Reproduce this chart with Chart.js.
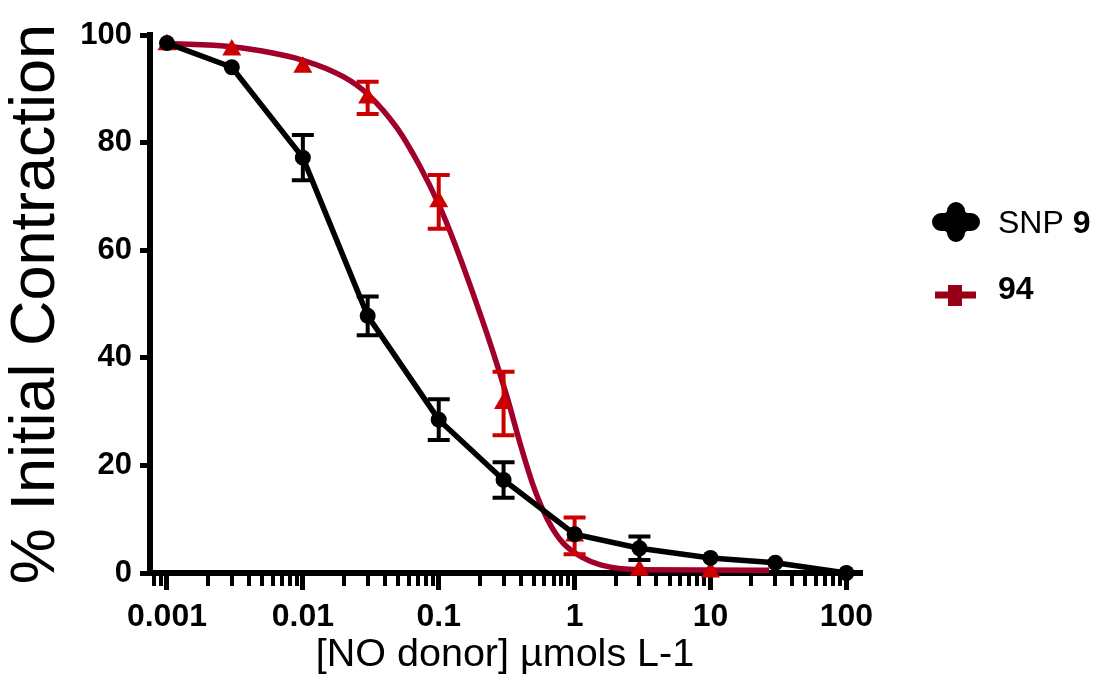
<!DOCTYPE html>
<html>
<head>
<meta charset="utf-8">
<title>NO donor relaxation</title>
<script src="https://cdn.jsdelivr.net/npm/chart.js@4.4.0/dist/chart.umd.min.js"></script>
<style>
  html, body { margin: 0; padding: 0; background: #fff; }
  #wrap { width: 1098px; height: 677px; position: relative; }
</style>
</head>
<body>
<div id="wrap"><canvas id="chartDose"></canvas></div>
<script>
// concentrations in µmol/L
const snpDoses = [0.001, 0.003, 0.01, 0.03, 0.1, 0.3, 1, 3, 10, 30, 100];
const snpMean  = [98.5, 94, 77.2, 47.8, 28.5, 17.3, 7.2, 4.6, 2.8, 1.9, 0];
const snpSem   = [null, null, 4.2, 3.6, 3.8, 3.3, null, 2.2, null, null, null];

const doses94 = [0.001, 0.003, 0.01, 0.03, 0.1, 0.3, 1, 3, 10];
const mean94  = [98.2, 97.2, 94, 88.3, 69, 31.5, 6.9, 0.5, 0.2];
const sem94   = [null, null, null, 3, 5, 5.9, 3.4, null, null];

// sigmoid fit for compound 94
const fitX = [0.001, 0.003, 0.01, 0.02, 0.03, 0.05, 0.073, 0.1, 0.13, 0.17, 0.25, 0.32, 0.4, 0.5, 0.63, 0.82, 1.16, 1.55, 3, 27];
const fitY = [98.4, 97.8, 95.3, 92.2, 89, 82.5, 75.5, 68.5, 61.5, 53.5, 41.2, 32.5, 23.8, 16, 10, 5.6, 2.8, 1.5, 0.6, 0.5];

const xTickLabels = ['0.001', '0.01', '0.1', '1', '10', '100'];
const yTicks = [0, 20, 40, 60, 80, 100];

const legendRows = [
  [{ text: 'SNP ', bold: false }, { text: '9', bold: true }],
  [{ text: '94', bold: true }]
];

const FONT = "'Liberation Sans', Arial, sans-serif";
const DARK_RED = '#a0002a';
const RED = '#cc0000';

const pts = (xs, ys) => xs.map((x, i) => ({ x: x, y: ys[i] }));

// vertical SEM bars with caps, drawn right after their own dataset
const errorBars = {
    id: 'errorBars',
    afterDatasetDraw(chart, args) {
        const ds = chart.data.datasets[args.index];
        if (!ds.errors) return;
        const { ctx, scales: { x, y } } = chart;
        ctx.save();
        ctx.strokeStyle = ds.errorColor;
        ctx.lineWidth = 4;
        ds.data.forEach((p, i) => {
            const e = ds.errors[i];
            if (e == null) return;
            const px = x.getPixelForValue(p.x);
            const top = y.getPixelForValue(p.y + e);
            const bot = y.getPixelForValue(p.y - e);
            ctx.beginPath();
            ctx.moveTo(px, top); ctx.lineTo(px, bot);
            ctx.moveTo(px - 11, top); ctx.lineTo(px + 11, top);
            ctx.moveTo(px - 11, bot); ctx.lineTo(px + 11, bot);
            ctx.stroke();
        });
        ctx.restore();
    }
};

// shorter ticks for the 2..9 steps of each decade
const minorTicks = {
    id: 'minorTicks',
    beforeDatasetsDraw(chart) {
        const { ctx, scales: { x }, chartArea } = chart;
        ctx.save();
        ctx.strokeStyle = '#000';
        ctx.lineWidth = 4;
        x.ticks.forEach(t => {
            if (t.major) return;
            const px = Math.round(x.getPixelForValue(t.value));
            ctx.beginPath();
            ctx.moveTo(px, chartArea.bottom);
            ctx.lineTo(px, chartArea.bottom + 13);
            ctx.stroke();
        });
        ctx.restore();
    }
};

// legend on the right: symbol + label
const sideLegend = {
    id: 'sideLegend',
    afterDraw(chart) {
        const ctx = chart.ctx;
        ctx.save();

        // SNP: circle with short line through it
        let cx = 956, cy = 222;
        ctx.fillStyle = '#000';
        ctx.strokeStyle = '#000';
        ctx.lineCap = 'round';
        ctx.lineWidth = 18;
        ctx.beginPath();
        ctx.moveTo(cx - 15, cy); ctx.lineTo(cx + 15, cy);
        ctx.moveTo(cx, cy - 11); ctx.lineTo(cx, cy + 11);
        ctx.stroke();
        ctx.beginPath();
        ctx.arc(cx, cy, 14, 0, Math.PI * 2);
        ctx.fill();

        // 94: dark red line with a small cross
        cx = 955; cy = 295;
        ctx.lineCap = 'butt';
        ctx.strokeStyle = '#990018';
        ctx.lineWidth = 7;
        ctx.beginPath();
        ctx.moveTo(cx - 20, cy); ctx.lineTo(cx + 21, cy);
        ctx.stroke();
        ctx.fillStyle = '#990018';
        ctx.fillRect(cx - 7, cy - 10, 14, 21);

        ctx.textBaseline = 'middle';
        ctx.fillStyle = '#000';
        const rowY = [224, 290];
        legendRows.forEach((parts, r) => {
            let tx = 998;
            parts.forEach(p => {
                ctx.font = (p.bold ? 'bold ' : '') + '32px ' + FONT;
                ctx.fillText(p.text, tx, rowY[r]);
                tx += ctx.measureText(p.text).width;
            });
        });
        ctx.restore();
    }
};

const ctxDose = document.getElementById('chartDose');
new Chart(ctxDose, {
    type: 'scatter',
    data: {
        datasets: [
            {
                label: 'SNP 9',
                data: pts(snpDoses, snpMean),
                errors: snpSem,
                errorColor: '#000',
                showLine: true,
                borderColor: '#000',
                backgroundColor: '#000',
                borderWidth: 5.5,
                tension: 0,
                pointRadius: 8,
                pointStyle: 'circle',
                pointBorderWidth: 0,
                clip: false,
                order: 0
            },
            {
                label: '94',
                data: pts(doses94, mean94),
                errors: sem94,
                errorColor: RED,
                showLine: false,
                backgroundColor: RED,
                borderColor: RED,
                pointStyle: 'triangle',
                pointRadius: 11,
                pointBorderWidth: 0,
                clip: false,
                order: 1
            },
            {
                label: '94 fit',
                data: pts(fitX, fitY),
                showLine: true,
                borderColor: DARK_RED,
                borderWidth: 5.5,
                cubicInterpolationMode: 'monotone',
                pointRadius: 0,
                clip: false,
                order: 2
            }
        ]
    },
    options: {
        responsive: true,
        maintainAspectRatio: false,
        animation: false,
        layout: { padding: { left: 0, top: 35, right: 238, bottom: 0 } },
        plugins: {
            legend: { display: false },
            tooltip: { enabled: false }
        },
        scales: {
            x: {
                type: 'logarithmic',
                min: 0.00075,
                max: 126,
                afterFit: (s) => { s.height = 104; },
                afterBuildTicks: (s) => {
                    const ticks = [];
                    for (let e = -4; e <= 2; e++) {
                        for (let k = 1; k <= 9; k++) {
                            const v = k * Math.pow(10, e);
                            if (v >= 0.0008 * 0.999 && v <= 100 * 1.001) {
                                ticks.push({ value: v, major: k === 1 });
                            }
                        }
                    }
                    s.ticks = ticks;
                },
                ticks: {
                    autoSkip: false,
                    maxRotation: 0,
                    padding: 8,
                    color: '#000',
                    font: { family: FONT, size: 32, weight: 'bold' },
                    callback: function (value) {
                        const exp = Math.log10(value);
                        if (Math.abs(exp - Math.round(exp)) > 1e-6) return '';
                        return xTickLabels[Math.round(exp) + 3];
                    }
                },
                grid: {
                    drawOnChartArea: false,
                    drawTicks: true,
                    tickLength: 17,
                    lineWidth: 5,
                    color: (c) => (c.tick && c.tick.major) ? '#000' : 'rgba(0,0,0,0)'
                },
                border: { display: true, color: '#000', width: 6 },
                title: {
                    display: true,
                    text: '[NO donor] µmols L-1',
                    color: '#000',
                    font: { family: FONT, size: 39.5, lineHeight: 1 },
                    padding: { top: 0, bottom: 2 }
                }
            },
            y: {
                min: 0,
                max: 100,
                afterFit: (s) => { s.width = 150; },
                afterBuildTicks: (s) => { s.ticks = yTicks.map(v => ({ value: v })); },
                ticks: {
                    padding: 8,
                    color: '#000',
                    font: { family: FONT, size: 31, weight: 'bold' }
                },
                grid: {
                    drawOnChartArea: false,
                    drawTicks: true,
                    tickLength: 10,
                    lineWidth: 5,
                    color: '#000'
                },
                border: { display: true, color: '#000', width: 6 },
                title: {
                    display: true,
                    text: '% Initial Contraction',
                    color: '#000',
                    font: { family: FONT, size: 63, lineHeight: 1 },
                    padding: { top: 5, bottom: 0 }
                }
            }
        }
    },
    plugins: [errorBars, minorTicks, sideLegend]
});
</script>
</body>
</html>
